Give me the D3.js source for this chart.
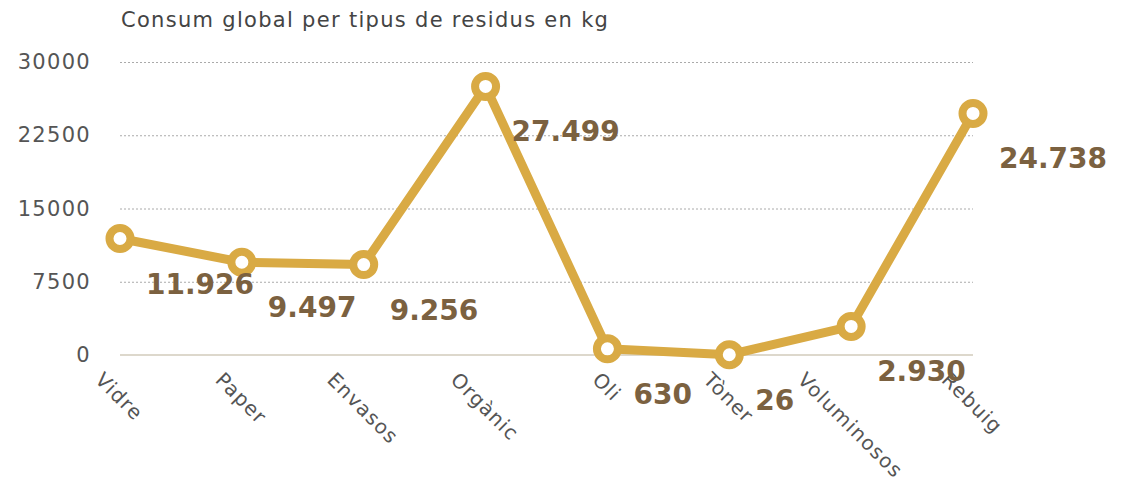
<!DOCTYPE html>
<html>
<head>
<meta charset="utf-8">
<script src="https://cdn.jsdelivr.net/npm/d3@7.9.0/dist/d3.min.js"></script>
<style>
  body { margin: 0; background: #fff; }
  text { font-family: "DejaVu Sans", sans-serif; }
</style>
</head>
<body>
<div id="chart"></div>
<script>
const categories = ["Vidre", "Paper", "Envasos", "Orgànic", "Oli", "Tòner", "Voluminosos", "Rebuig"];
const values = [11926, 9497, 9256, 27499, 630, 26, 2930, 24738];
const valueLabels = ["11.926", "9.497", "9.256", "27.499", "630", "26", "2.930", "24.738"];
const yTicks = [0, 7500, 15000, 22500, 30000];

const width = 1130, height = 496;
const margin = { top: 62, right: 157, bottom: 141, left: 120 };
const plotW = width - margin.left - margin.right;
const plotH = height - margin.top - margin.bottom;

const svg = d3.select("#chart").append("svg")
    .attr("width", width)
    .attr("height", height);

const g = svg.append("g")
    .attr("transform", `translate(${margin.left},${margin.top})`);

const x = d3.scalePoint()
    .domain(categories)
    .range([0, plotW]);

const y = d3.scaleLinear()
    .domain([0, 30000])
    .range([plotH, 0]);

// title
svg.append("text")
    .attr("x", 121)
    .attr("y", 27)
    .style("font-size", "21px")
    .style("letter-spacing", "1.3px")
    .style("fill", "#444")
    .text("Consum global per tipus de residus en kg");

// grid lines (dotted)
g.append("g")
    .attr("class", "grid")
    .call(d3.axisLeft(y).tickValues(yTicks.filter(d => d > 0)).tickSize(-plotW).tickFormat(""))
    .call(s => s.select(".domain").remove())
    .call(s => s.selectAll("line")
        .attr("stroke", "#aaa")
        .attr("stroke-width", 1)
        .attr("stroke-dasharray", "2,2"));

// y labels
g.append("g")
    .call(d3.axisLeft(y).tickValues(yTicks).tickSize(0).tickPadding(29).tickFormat(d3.format("d")))
    .call(s => s.select(".domain").remove())
    .call(s => s.selectAll("text")
        .style("font-size", "21px")
        .style("letter-spacing", "1.3px")
        .style("fill", "#555")
        .style("font-family", "DejaVu Sans, sans-serif"));

// baseline
g.append("line")
    .attr("x1", 0)
    .attr("x2", plotW)
    .attr("y1", y(0))
    .attr("y2", y(0))
    .attr("stroke", "#ddd8cc")
    .attr("stroke-width", 2);

// x labels rotated, each centred under its point
g.append("g")
    .attr("transform", `translate(0,${plotH})`)
    .call(d3.axisBottom(x).tickSize(0).tickPadding(0))
    .call(s => s.select(".domain").remove())
    .call(s => s.selectAll("text")
        .attr("text-anchor", "start")
        .attr("dy", null)
        .attr("y", 0)
        .style("font-size", "20px")
        .style("letter-spacing", "1.2px")
        .style("fill", "#555")
        .style("font-family", "DejaVu Sans, sans-serif")
        .attr("transform", function() {
            const L = this.getComputedTextLength();
            return `translate(${-L * 0.354 - 6},26) rotate(45)`;
        }));

const color = "#D9AA44";

const line = d3.line()
    .x((d, i) => x(categories[i]))
    .y(d => y(d));

g.append("path")
    .datum(values)
    .attr("fill", "none")
    .attr("stroke", color)
    .attr("stroke-width", 9)
    .attr("stroke-linejoin", "round")
    .attr("d", line);

g.selectAll("circle.pt")
    .data(values)
    .enter().append("circle")
    .attr("class", "pt")
    .attr("cx", (d, i) => x(categories[i]))
    .attr("cy", d => y(d))
    .attr("r", 10.5)
    .attr("fill", "#fff")
    .attr("stroke", color)
    .attr("stroke-width", 8);

g.selectAll("text.val")
    .data(values)
    .enter().append("text")
    .attr("class", "val")
    .attr("x", (d, i) => x(categories[i]) + 26)
    .attr("y", d => y(d) + 55)
    .style("font-size", "28px")
    .style("font-weight", "bold")
    .style("fill", "#7B6140")
    .text((d, i) => valueLabels[i]);
</script>
</body>
</html>
